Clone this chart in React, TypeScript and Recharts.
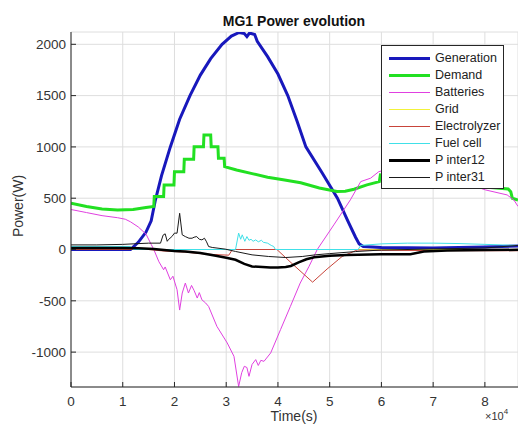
import { LineChart, Line, XAxis, YAxis, CartesianGrid, Legend } from 'recharts'

// time in units of 1e4 s, power in W
const generation = [
  [0, 0], [1.15, 0], [1.3, 70], [1.45, 170], [1.55, 280], [1.63, 480], [1.75, 720], [1.92, 1000],
  [2.1, 1270], [2.3, 1500], [2.5, 1700], [2.7, 1860], [2.92, 2000], [3.1, 2080], [3.25, 2115],
  [3.35, 2105], [3.4, 2075], [3.45, 2110], [3.55, 2095], [3.6, 2030], [3.8, 1880], [4.0, 1710],
  [4.19, 1500], [4.37, 1250], [4.54, 1000], [4.85, 750], [5.15, 500], [5.35, 280], [5.5, 120],
  [5.57, 55], [5.65, 30], [6, 20], [7, 15], [8, 25], [8.64, 35],
]

const demand = [
  [0, 450], [0.3, 420], [0.6, 395], [0.9, 385], [1.2, 390], [1.45, 410], [1.6, 420], [1.61, 516],
  [1.79, 516], [1.8, 629], [1.99, 629], [2.0, 759], [2.18, 759], [2.19, 879], [2.37, 879],
  [2.38, 1002], [2.56, 1002], [2.57, 1116], [2.7, 1116], [2.71, 1002], [2.84, 1002], [2.85, 889],
  [2.96, 889], [2.97, 808], [3.2, 775], [3.5, 740], [3.8, 705], [4.1, 680], [4.44, 650], [4.8, 600],
  [5.14, 565], [5.3, 568], [5.47, 588], [5.72, 630], [5.96, 662], [5.98, 727], [6.5, 700], [7, 670],
  [7.5, 640], [8, 610], [8.45, 590], [8.5, 564], [8.53, 500], [8.64, 483],
]

const batteries = [
  [0, 390], [0.3, 360], [0.6, 330], [0.9, 310], [1.05, 295], [1.15, 270], [1.3, 220], [1.45, 150],
  [1.55, 50], [1.6, 0], [1.7, -120], [1.79, -197], [1.82, -170], [1.92, -295], [1.97, -260],
  [2.05, -392], [2.1, -590], [2.15, -424], [2.21, -327], [2.27, -424], [2.33, -350], [2.38, -400],
  [2.44, -473], [2.48, -420], [2.53, -490], [2.6, -520], [2.66, -555], [2.82, -749], [3.02, -911],
  [3.15, -1041], [3.24, -1335], [3.3, -1200], [3.35, -1138], [3.4, -1150], [3.44, -1236],
  [3.5, -1120], [3.57, -1073], [3.62, -1130], [3.67, -1080], [3.73, -1090], [3.86, -1008],
  [4.05, -781], [4.24, -555], [4.43, -327], [4.6, -165], [4.76, 0], [5.08, 240], [5.4, 484],
  [5.6, 662], [5.79, 695], [5.95, 759], [6.2, 790], [6.6, 760], [7.0, 720], [7.5, 660], [7.9, 600],
  [8.01, 581], [8.43, 532], [8.56, 483], [8.64, 420],
]

const grid = [[0, 0], [8.64, 0]]

const electrolyzer = [
  [0, 0], [1.5, 0], [1.8, -15], [2.2, -25], [2.5, -40], [2.8, -50], [3.05, -55], [3.12, 0],
  [3.98, 0], [4.3, -150], [4.67, -318], [4.95, -190], [5.24, -68], [5.53, -5], [6, -8], [7, -10],
  [8, -12], [8.64, -12],
]

const fuelCell = [
  [0, 30], [1.15, 30], [1.2, 0], [3.18, 0], [3.24, 160], [3.28, 100], [3.31, 143], [3.36, 80],
  [3.4, 126], [3.44, 90], [3.48, 100], [3.52, 80], [3.57, 94], [3.62, 75], [3.68, 90], [3.72, 70],
  [3.8, 62], [3.87, 40], [3.92, 29], [3.95, 0], [5.55, 0], [5.6, 40], [6.0, 55], [6.5, 62],
  [7.0, 62], [7.5, 58], [8.0, 50], [8.64, 40],
]

const pInter12 = [
  [0, 15], [1.0, 15], [1.3, 12], [1.6, 5], [2.0, -15], [2.21, -19], [2.5, -35], [2.8, -60],
  [3.0, -80], [3.18, -100], [3.35, -140], [3.5, -165], [3.7, -170], [3.85, -175], [4.0, -175],
  [4.15, -170], [4.25, -160], [4.4, -125], [4.55, -95], [4.7, -75], [5.0, -60], [5.33, -54],
  [5.98, -45], [6.56, -45], [6.82, -20], [7.27, -10], [8, -5], [8.64, -3],
]

const pInter31 = [
  [0, 45], [0.5, 45], [1.0, 50], [1.2, 55], [1.5, 62], [1.73, 62], [1.78, 140], [1.82, 153],
  [1.86, 80], [1.88, 95], [1.95, 126], [2.0, 160], [2.05, 159], [2.1, 353], [2.15, 143],
  [2.21, 126], [2.28, 110], [2.34, 110], [2.38, 120], [2.43, 126], [2.48, 100], [2.53, 94],
  [2.58, 110], [2.62, 75], [2.66, 29], [2.73, 20], [2.98, 4], [3.18, -19], [3.5, -52], [3.82, -68],
  [4.15, -78], [4.47, -68], [4.72, -52], [5.0, -40], [5.5, -20], [6.0, -5], [7.0, 5], [8.0, 15],
  [8.64, 40],
]

const xTicks = [0, 1, 2, 3, 4, 5, 6, 7, 8]
const yTicks = [-1000, -500, 0, 500, 1000, 1500, 2000]

const series = [
  { name: 'Generation', data: generation, color: '#1818bc', width: 3 },
  { name: 'Demand', data: demand, color: '#22e022', width: 3 },
  { name: 'Batteries', data: batteries, color: '#e040e0', width: 1 },
  { name: 'Grid', data: grid, color: '#f2f23a', width: 1 },
  { name: 'Electrolyzer', data: electrolyzer, color: '#c8443a', width: 1 },
  { name: 'Fuel cell', data: fuelCell, color: '#40e0e8', width: 1 },
  { name: 'P inter12', data: pInter12, color: '#000000', width: 2.5 },
  { name: 'P inter31', data: pInter31, color: '#1a1a1a', width: 1 },
]

const FONT = '"Liberation Sans", Arial, Helvetica, sans-serif'
const AXIS = '#262626'
const TEXT = '#333333'

const toPoints = (arr: number[][]) => arr.map(([t, v]) => ({ t, v }))

function BottomTick({ x, y, payload }: any) {
  return (
    <g>
      <line x1={x} y1={y} x2={x} y2={y - 5} stroke={AXIS} />
      <text x={x} y={y + 19} textAnchor="middle" fill={TEXT} fontSize={13.5} fontFamily={FONT}>
        {payload.value}
      </text>
    </g>
  )
}

function TopTick({ x, y }: any) {
  return <line x1={x} y1={y} x2={x} y2={y + 5} stroke={AXIS} />
}

function LeftTick({ x, y, payload }: any) {
  return (
    <g>
      <line x1={x} y1={y} x2={x + 5} y2={y} stroke={AXIS} />
      <text x={x - 5} y={y + 4.8} textAnchor="end" fill={TEXT} fontSize={13.5} fontFamily={FONT}>
        {payload.value}
      </text>
    </g>
  )
}

// legend drawn in the series order, as MATLAB does
function LegendBox() {
  return (
    <div
      style={{
        position: 'absolute',
        left: 381,
        top: 45,
        width: 121,
        padding: '4px 0 2px 0',
        background: '#fff',
        border: `1px solid ${AXIS}`,
        fontFamily: FONT,
        fontSize: 12.5,
        color: '#222',
      }}
    >
      {series.map((s) => (
        <div key={s.name} style={{ height: 17, display: 'flex', alignItems: 'center' }}>
          <div style={{ width: 41, marginLeft: 7, height: s.width, background: s.color }} />
          <span style={{ marginLeft: 5, lineHeight: '17px', whiteSpace: 'nowrap' }}>{s.name}</span>
        </div>
      ))}
    </div>
  )
}

export default function App() {
  return (
    <div
      style={{
        position: 'absolute',
        left: 0,
        top: 0,
        width: 518,
        height: 429,
        background: '#fff',
        fontFamily: FONT,
        overflow: 'hidden',
      }}
    >
      <LineChart width={518} height={429} margin={{ top: 32, right: 0, left: 0, bottom: 0 }}>
        <CartesianGrid stroke="#dedede" strokeWidth={1} />
        <XAxis
          dataKey="t"
          type="number"
          domain={[0, 8.64]}
          ticks={xTicks}
          interval={0}
          allowDataOverflow
          height={42}
          tickSize={0}
          tickMargin={0}
          tickLine={false}
          axisLine={{ stroke: AXIS }}
          tick={<BottomTick />}
        />
        <XAxis
          xAxisId="top"
          orientation="top"
          dataKey="t"
          type="number"
          domain={[0, 8.64]}
          ticks={xTicks}
          interval={0}
          allowDataOverflow
          height={0}
          tickSize={0}
          tickMargin={0}
          tickLine={false}
          axisLine={{ stroke: AXIS }}
          tick={<TopTick />}
        />
        <YAxis
          type="number"
          domain={[-1340, 2120]}
          ticks={yTicks}
          interval={0}
          allowDataOverflow
          width={71}
          tickSize={0}
          tickMargin={0}
          tickLine={false}
          axisLine={{ stroke: AXIS }}
          tick={<LeftTick />}
        />
        {series.map((s) => (
          <Line
            key={s.name}
            name={s.name}
            data={toPoints(s.data)}
            dataKey="v"
            type="linear"
            stroke={s.color}
            strokeWidth={s.width}
            dot={false}
            activeDot={false}
            isAnimationActive={false}
          />
        ))}
        <Legend
          layout="horizontal"
          verticalAlign="middle"
          align="center"
          content={<LegendBox />}
          wrapperStyle={{ position: 'absolute', left: 0, top: 0, width: 0, height: 0 }}
        />
      </LineChart>

      <div
        style={{
          position: 'absolute',
          left: 0,
          width: 588,
          top: 13,
          textAlign: 'center',
          fontWeight: 'bold',
          fontSize: 14,
          color: '#111',
        }}
      >
        MG1 Power evolution
      </div>
      <div
        style={{
          position: 'absolute',
          left: 18,
          top: 206,
          transform: 'translate(-50%, -50%) rotate(-90deg)',
          fontSize: 14,
          color: TEXT,
          whiteSpace: 'nowrap',
        }}
      >
        Power(W)
      </div>
      <div
        style={{
          position: 'absolute',
          left: 294,
          top: 416,
          transform: 'translate(-50%, -50%)',
          fontSize: 14,
          lineHeight: '15px',
          color: TEXT,
          whiteSpace: 'nowrap',
        }}
      >
        Time(s)
      </div>
      <div style={{ position: 'absolute', left: 485, top: 410, fontSize: 11, color: TEXT, whiteSpace: 'nowrap' }}>
        ×10<sup style={{ fontSize: 8, verticalAlign: 'top', position: 'relative', top: -3 }}>4</sup>
      </div>
    </div>
  )
}
